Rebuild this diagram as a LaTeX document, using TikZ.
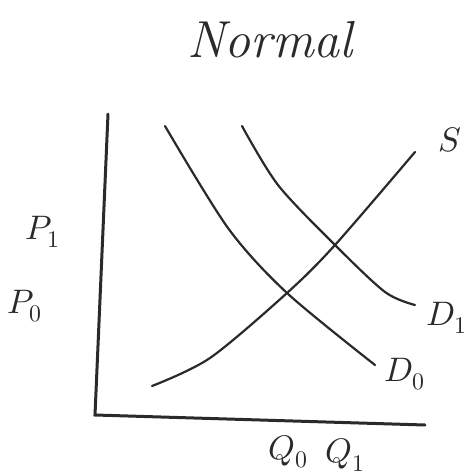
\documentclass[tikz,border=0pt]{standalone}
\usepackage{xcolor}
\usepackage{tikz}
\usepackage{amsmath}
\usepackage{unicode-math}
\definecolor{ink}{HTML}{2A2A2A}
\tikzset{
  curve/.style={ink, line width=2.2pt, line cap=round, line join=round},
  axis/.style={ink, line width=3pt, line cap=round},
  lbl/.style={ink, font=\fontsize{34}{36}\selectfont, inner sep=0pt}
}

\begin{document}
\begin{tikzpicture}[x=1pt, y=-1pt]
  \useasboundingbox (0,0) rectangle (468,475);
  % axes
  \coordinate (top) at (108,114);
  \coordinate (origin) at (95,415);
  \coordinate (right) at (425,425);
  \draw[axis] (top) -- (origin) -- (right);
  % demand and supply
  \draw[curve] plot[smooth, tension=0.5] coordinates {(165,126) (228,228) (287,293) (375,365)};
  \draw[curve] plot[smooth, tension=0.5] coordinates {(242,126) (278,185) (335,245) (385,292) (415,305)};
  \draw[curve] plot[smooth, tension=0.5] coordinates {(152,386) (210,358) (287,293) (335,245) (415,152)};
  % labels
  \node[lbl, font=\fontsize{52}{56}\selectfont\itshape] (title) at (270,40) {Normal};
  \node[lbl] (s) at (450,140) {$S$};
  \node[lbl] (d1) at (447,318) {$D_1$};
  \node[lbl] (d0) at (405,374) {$D_0$};
  \node[lbl] (p1) at (43,232) {$P_1$};
  \node[lbl] (p0) at (25,306) {$P_0$};
  \node[lbl] (q0) at (288,452) {$Q_0$};
  \node[lbl] (q1) at (345,455) {$Q_1$};
\end{tikzpicture}
\end{document}
